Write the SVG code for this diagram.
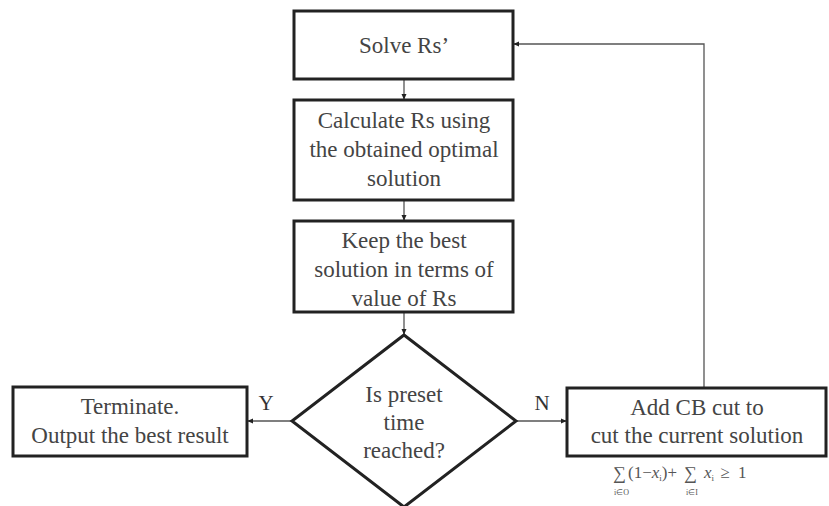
<svg xmlns="http://www.w3.org/2000/svg" width="829" height="506" viewBox="0 0 829 506">
<style>
.box{fill:#fff;stroke:#222;stroke-width:3}
.t{font-family:"Liberation Serif","Times New Roman",serif;font-size:23px;fill:#444;text-anchor:middle}
.lbl{font-family:"Liberation Serif","Times New Roman",serif;font-size:21px;fill:#333;text-anchor:middle}
.c{fill:none;stroke:#555;stroke-width:1.3}
.f{font-family:"Liberation Serif","Times New Roman",serif;fill:#555}
</style>
<defs>
<marker id="ah" viewBox="0 0 8 8" refX="7" refY="4" markerWidth="6" markerHeight="6" orient="auto" markerUnits="userSpaceOnUse">
<path d="M0,0.5 L8,4 L0,7.5 z" fill="#222"/>
</marker>
</defs>
<rect width="829" height="506" fill="#fff"/>
<g id="connectors">
<line class="c" x1="404" y1="79" x2="404" y2="99" marker-end="url(#ah)"/>
<line class="c" x1="404" y1="200" x2="404" y2="220" marker-end="url(#ah)"/>
<line class="c" x1="404" y1="312" x2="404" y2="334" marker-end="url(#ah)"/>
<line class="c" x1="292" y1="421" x2="248" y2="421" marker-end="url(#ah)"/>
<line class="c" x1="516" y1="421" x2="566" y2="421" marker-end="url(#ah)"/>
<polyline class="c" points="704,387 704,44 514,44" marker-end="url(#ah)"/>
<text class="lbl" x="266" y="410">Y</text>
<text class="lbl" x="542" y="410">N</text>
</g>
<g id="solve">
<rect class="box" x="294" y="11" width="219" height="68"/>
<text class="t" x="404" y="53">Solve Rs’</text>
</g>
<g id="calculate">
<rect class="box" x="294" y="100" width="219" height="100"/>
<text class="t" x="404" y="128">Calculate Rs using</text>
<text class="t" x="404" y="157">the obtained optimal</text>
<text class="t" x="404" y="186">solution</text>
</g>
<g id="keep">
<rect class="box" x="294" y="221" width="219" height="91"/>
<text class="t" x="404" y="248">Keep the best</text>
<text class="t" x="404" y="277">solution in terms of</text>
<text class="t" x="404" y="306">value of Rs</text>
</g>
<g id="decision">
<polygon class="box" points="404,335 516,421 404,507 292,421"/>
<text class="t" x="404" y="402">Is preset</text>
<text class="t" x="404" y="430">time</text>
<text class="t" x="404" y="458">reached?</text>
</g>
<g id="terminate">
<rect class="box" x="13" y="387" width="234" height="69"/>
<text class="t" x="130" y="414">Terminate.</text>
<text class="t" x="130" y="443">Output the best result</text>
</g>
<g id="addcut">
<rect class="box" x="567" y="388" width="259" height="68"/>
<text class="t" x="697" y="415">Add CB cut to</text>
<text class="t" x="697" y="443">cut the current solution</text>
<text class="f" x="613" y="479" font-size="18">∑</text>
<text class="f" x="614" y="495" font-size="8">i∈O</text>
<text class="f" x="628" y="478" font-size="17">(1−<tspan font-style="italic">x</tspan><tspan font-size="9" dy="3">i</tspan><tspan dy="-3">)+</tspan></text>
<text class="f" x="684" y="479" font-size="18">∑</text>
<text class="f" x="686" y="495" font-size="8">i∈I</text>
<text class="f" x="704" y="478" font-size="17"><tspan font-style="italic">x</tspan><tspan font-size="9" dy="3">i</tspan><tspan dy="-3" letter-spacing="2"> ≥ 1</tspan></text>
</g>
</svg>
